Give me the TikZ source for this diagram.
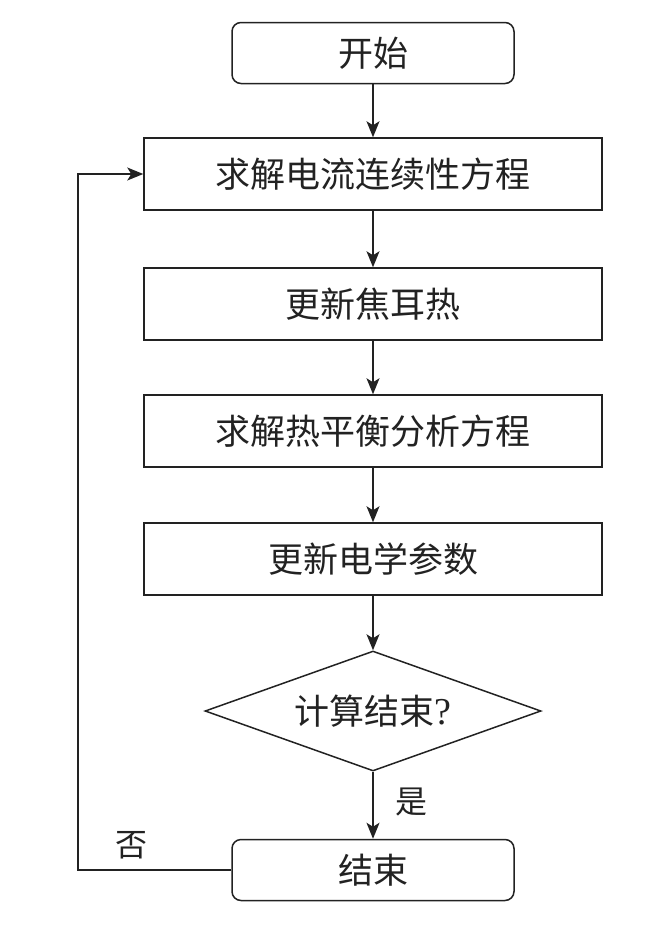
\documentclass[tikz,border=0pt]{standalone}
\usepackage{fontspec}
\setmainfont{Liberation Serif}
\newfontfamily\cjk{Noto Sans CJK SC}
\usetikzlibrary{shapes.geometric,arrows.meta}
\definecolor{ink}{HTML}{222222}
\tikzset{
  every node/.style={font=\cjk\fontsize{35}{38}\selectfont, text=ink},
  roundbox/.style={draw=ink, line width=1.5pt, rounded corners=9pt, minimum width=282pt, minimum height=61pt, inner sep=0pt},
  stepbox/.style={draw=ink, line width=1.5pt, minimum width=458pt, minimum height=72pt, inner sep=0pt},
  decision/.style={draw=ink, line width=1.5pt, diamond, aspect=2.8, minimum width=336pt, minimum height=120pt, inner sep=0pt},
  flow/.style={draw=ink, line width=1.5pt, -{Stealth[length=16pt,width=13pt,inset=4pt]}},
  lbl/.style={font=\cjk\fontsize{32}{34}\selectfont},
}
\begin{document}
\begin{tikzpicture}[x=1pt,y=-1pt]
\useasboundingbox (0,0) rectangle (660,932);
\node[roundbox] (start) at (373,53) {开始};
\node[stepbox] (s1) at (373,174) {求解电流连续性方程};
\node[stepbox] (s2) at (373,304) {更新焦耳热};
\node[stepbox] (s3) at (373,431) {求解热平衡分析方程};
\node[stepbox] (s4) at (373,559) {更新电学参数};
\node[decision] (d) at (373,711) {计算结束{\rmfamily\fontsize{38}{40}\selectfont ?}};
\node[roundbox] (end) at (373,870) {结束};
\coordinate (c1) at (78,870);
\coordinate (c2) at (78,174);
\draw[flow] (start) -- (s1);
\draw[flow] (s1) -- (s2);
\draw[flow] (s2) -- (s3);
\draw[flow] (s3) -- (s4);
\draw[flow] (s4) -- (d);
\draw[flow] (d) -- (end);
\node[lbl] (yes) at (411,802) {是};
\draw[flow] (end.west) -- (c1) -- (c2) -- (s1.west);
\node[lbl] (no) at (131,845) {否};
\end{tikzpicture}
\end{document}
